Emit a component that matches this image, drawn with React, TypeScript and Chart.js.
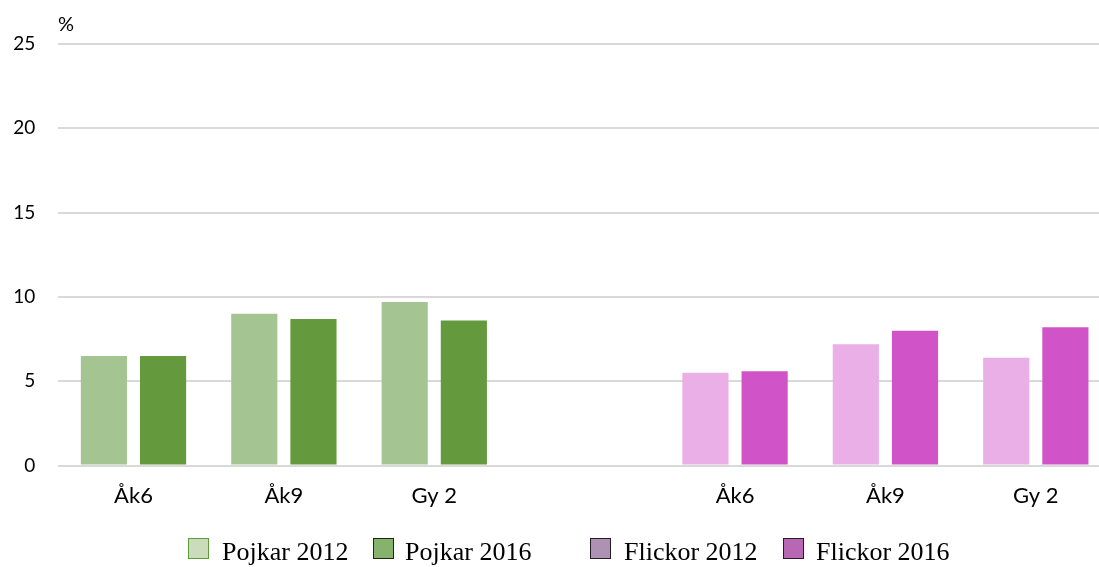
import React, { useEffect, useRef } from "react";
import { Chart, registerables } from "chart.js";

Chart.register(...registerables);

const categories = ["Åk6", "Åk9", "Gy 2", "", "Åk6", "Åk9", "Gy 2"];
const boys2012 = [6.5, 9.0, 9.7];
const boys2016 = [6.5, 8.7, 8.6];
const girls2012 = [5.5, 7.2, 6.4];
const girls2016 = [5.6, 8.0, 8.2];
const yTicks = [0, 5, 10, 15, 20, 25];

const legendItems = [
  { label: "Pojkar 2012", fill: "#cadcbc", border: "#5e9b3a", left: 188, textLeft: 222 },
  { label: "Pojkar 2016", fill: "#86b26e", border: "#1c2614", left: 373, textLeft: 405 },
  { label: "Flickor 2012", fill: "#ae92b3", border: "#261c26", left: 590, textLeft: 624 },
  { label: "Flickor 2016", fill: "#b767b3", border: "#261c26", left: 783, textLeft: 816 },
];

const C = {
  g1: "#a4c591",
  g2: "#64993d",
  p1: "#eaafe6",
  p2: "#d054c7",
};

export default function App() {
  const ref = useRef<HTMLCanvasElement | null>(null);

  useEffect(() => {
    if (!ref.current) return;
    const d2012 = [...boys2012, null, ...girls2012];
    const d2016 = [...boys2016, null, ...girls2016];
    const c2012 = [C.g1, C.g1, C.g1, C.g1, C.p1, C.p1, C.p1];
    const c2016 = [C.g2, C.g2, C.g2, C.g2, C.p2, C.p2, C.p2];
    const chart = new Chart(ref.current, {
      type: "bar",
      data: {
        labels: categories,
        datasets: [
          { label: "2012", data: d2012, backgroundColor: c2012, categoryPercentage: 0.787, barPercentage: 0.78 },
          { label: "2016", data: d2016, backgroundColor: c2016, categoryPercentage: 0.787, barPercentage: 0.78 },
        ],
      },
      options: {
        animation: false,
        responsive: false,
        maintainAspectRatio: false,
        layout: { padding: { top: 44, left: 0, right: 0, bottom: 49 } },
        plugins: { legend: { display: false }, tooltip: { enabled: false } },
        scales: {
          x: {
            grid: { display: false },
            border: { display: false },
            ticks: { color: "#000", font: { family: "Lato", size: 22 }, padding: 9, maxRotation: 0, autoSkip: false },
          },
          y: {
            min: 0,
            max: 25,
            afterFit: (s: any) => { s.width = 58.3; },
            afterBuildTicks: (s: any) => { s.ticks = yTicks.map((v) => ({ value: v })); },
            grid: { color: "#d9d9d9", lineWidth: 2, drawTicks: false },
            border: { display: false },
            ticks: { color: "#000", font: { family: "Lato", size: 19 }, padding: 23 },
          },
        },
      },
    });
    return () => chart.destroy();
  }, []);

  return (
    <div style={{ position: "absolute", left: 0, top: 0, width: 1099, height: 567, overflow: "hidden", background: "#fff" }}>
      <canvas ref={ref} width={1111} height={567} style={{ position: "absolute", left: 0, top: 0, width: 1111, height: 567 }} />
      <div style={{ position: "absolute", left: 58, top: 11, fontFamily: "Lato", fontSize: 20, color: "#000" }}>%</div>
      {legendItems.map((it) => (
        <React.Fragment key={it.label}>
          <div style={{ position: "absolute", left: it.left, top: 538, width: 21, height: 21, background: it.fill, border: `1.5px solid ${it.border}`, boxSizing: "border-box" }} />
          <div style={{ position: "absolute", left: it.textLeft, top: 537, fontFamily: "'Liberation Serif', serif", fontSize: 26, lineHeight: "30px", color: "#000", whiteSpace: "nowrap" }}>{it.label}</div>
        </React.Fragment>
      ))}
    </div>
  );
}
